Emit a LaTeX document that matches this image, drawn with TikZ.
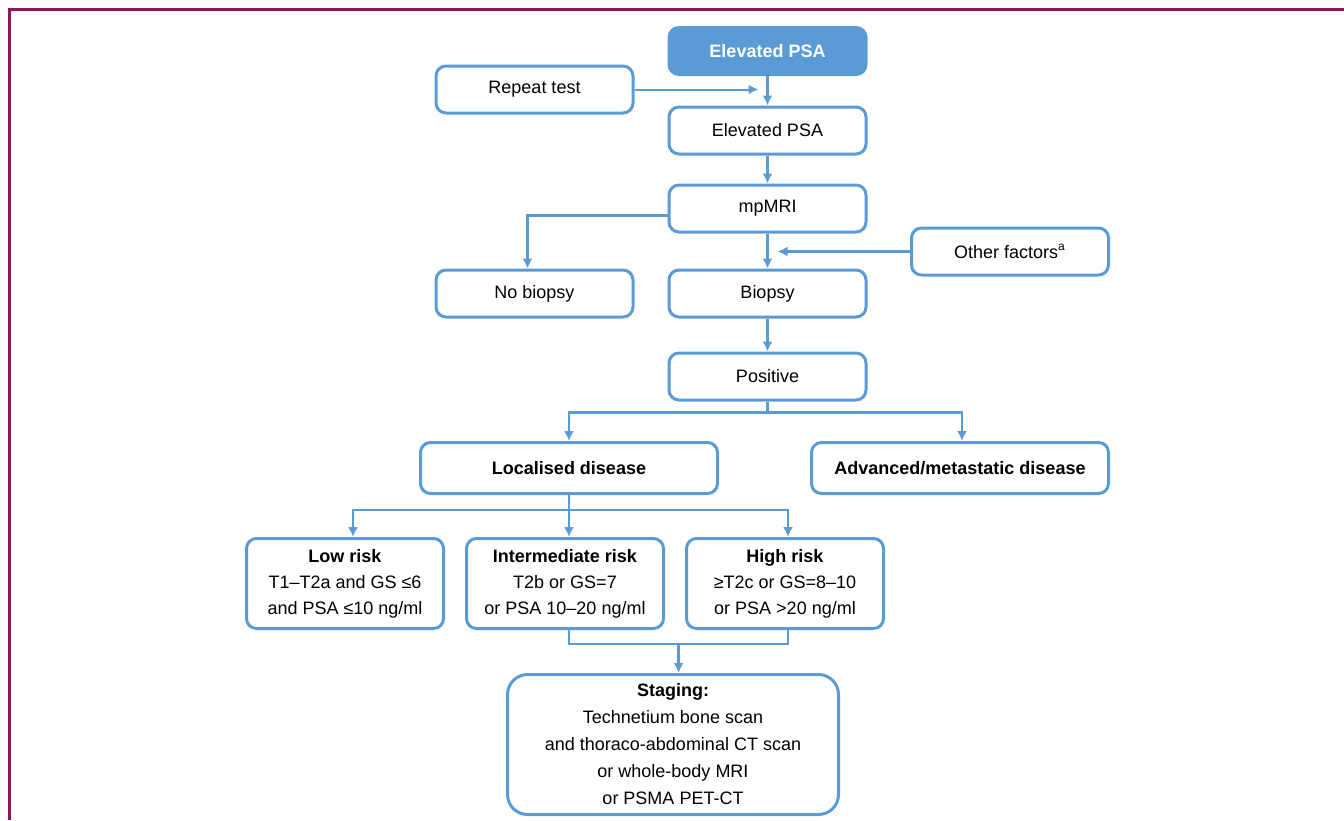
\documentclass[tikz,border=0pt]{standalone}
\usepackage{fontspec}
\setmainfont{Liberation Sans}
\usetikzlibrary{arrows.meta}
\definecolor{psablue}{RGB}{91,155,213}
\definecolor{framecol}{RGB}{140,24,92}
\tikzset{>={Latex[width=5pt,length=5pt]},
  base/.style = {
    rectangle, rounded corners=5pt, draw=psablue, line width=1.5pt,
    text centered, align=center, font=\fontsize{9}{13}\selectfont
  },
  box/.style = {
    base, minimum width=98.5pt, minimum height=23.5pt
  },
  startbox/.style = {
    box, fill=psablue, text=white, font=\fontsize{9}{13}\selectfont\bfseries
  },
  diseasebox/.style = {
    base, minimum width=148.5pt, minimum height=25.5pt,
    font=\fontsize{9}{13}\selectfont\bfseries
  },
  riskbox/.style = {
    base, minimum width=98.5pt, minimum height=45pt
  },
  stagebox/.style = {
    base, rounded corners=10pt, minimum width=165.5pt, minimum height=70pt,
    font=\fontsize{9}{13.5}\selectfont
  },
  link/.style = {draw=psablue, line width=1.2pt},
}

\begin{document}
\begin{tikzpicture}
  \useasboundingbox (0,0) rectangle (672pt,-410pt);
  \draw[framecol, line width=1.5pt] (672pt,-4.75pt) -- (4.75pt,-4.75pt) -- (4.75pt,-410pt);

  \node (top) [startbox] at (383.75pt,-25.5pt) {Elevated PSA};
  \node (elev) [box, below of=top, node distance=39.75pt] {Elevated PSA};
  \node (mri) [box, below of=elev, node distance=39pt] {mpMRI};
  \node (bio) [box, below of=mri, node distance=42.5pt] {Biopsy};
  \node (pos) [box, below of=bio, node distance=41.5pt] {Positive};
  \node (nob) [box, left of=bio, node distance=116.5pt] {No biopsy};
  \node (rep) [box] at (267.25pt,-44.75pt) {Repeat test};
  \node (oth) [box] at (505pt,-125.75pt) {Other factors\textsuperscript{a}};
  \node (loc) [diseasebox] at (284.5pt,-234pt) {Localised disease};
  \node (adv) [diseasebox, right of=loc, node distance=195.5pt] {Advanced/metastatic disease};
  \node (inter) [riskbox] at (282.5pt,-291.75pt) {\textbf{Intermediate risk}\\T2b or GS=7\\or PSA 10–20 ng/ml};
  \node (low) [riskbox, left of=inter, node distance=110pt] {\textbf{Low risk}\\T1–T2a and GS ≤6\\and PSA ≤10 ng/ml};
  \node (high) [riskbox, right of=inter, node distance=110pt] {\textbf{High risk}\\≥T2c or GS=8–10\\or PSA >20 ng/ml};
  \node (stg) [stagebox] at (336.5pt,-372.25pt) {\textbf{Staging:}\\Technetium bone scan\\and thoraco-abdominal CT scan\\or whole-body MRI\\or PSMA PET-CT};

  % side inputs
  \path (top.south |- rep.east) ++(-4.5pt,0) coordinate (rin);
  \path (top.south |- oth.west) ++(5pt,0) coordinate (oin);
  \draw[link, ->, line width=1pt] (rep) -- (rin);
  \draw[link, ->] (oth) -- (oin);

  % main column
  \draw[link, ->] (top) -- (elev);
  \draw[link, ->] (elev) -- (mri);
  \draw[link, ->] (mri) -- (bio);
  \draw[link, ->] (bio) -- (pos);
  \draw[link, ->] ([yshift=-3.5pt]mri.west) -| ([xshift=-3.5pt]nob.north);

  % disease split
  \path (pos.south) ++(0,-5.5pt) coordinate (split1);
  \draw[link] (pos.south) -- (split1);
  \draw[link, ->] (split1) -| (loc.north);
  \draw[link, ->] (split1) -| ([xshift=1pt]adv.north);

  % risk split
  \path (loc.south) ++(0,-7.5pt) coordinate (split2);
  \draw[link, ->] (loc.south) -- (loc.south |- inter.north);
  \draw[link, ->] (split2) -| ([xshift=4pt]low.north);
  \draw[link, ->] (split2) -| ([xshift=1.5pt]high.north);

  % merge to staging
  \path (loc.south |- inter.south) ++(0,-7pt) coordinate (m1);
  \draw[link] (loc.south |- inter.south) -- (m1) -| ([xshift=1.5pt]high.south);
  \path (stg.north) ++(2.8pt,0) coordinate (sin);
  \draw[link, ->] (sin |- m1) -- (sin);
\end{tikzpicture}
\end{document}
